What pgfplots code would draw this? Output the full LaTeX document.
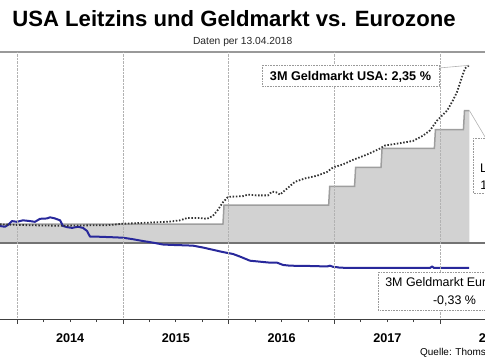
\documentclass[border=0pt]{standalone}
\usepackage{pgfplots}
\pgfplotsset{compat=1.18}
\usepackage{fontspec}
\setmainfont{Liberation Sans}
\definecolor{eurblue}{RGB}{40,40,155}
\definecolor{fillgray}{RGB}{210,210,210}
\definecolor{stepgray}{RGB}{158,158,158}
\begin{document}
\begin{tikzpicture}[x=1bp,y=1bp]
\path[use as bounding box] (0,0) rectangle (485,360);
\clip (0,0) rectangle (485,360);
\begin{axis}[at={(0bp,308bp)}, anchor=north west, scale only axis,
  width=485bp, height=267bp,
  xmin=2013.836, xmax=2018.424, ymin=-1.005, ymax=2.526,
  axis x line*=bottom, axis y line=none,
  x axis line style={-, black!75, line width=0.9bp},
  xtick={2014,2015,2016,2017,2018},
  xticklabels={2014,2015,2016,2017,2018},
  minor x tick num=3,
  tick align=outside, major tick length=4.5bp, minor tick length=3bp,
  tick style={black!75, line width=0.9bp},
  xmajorgrids, major grid style={densely dotted, gray!60, line width=0.6bp},
  xticklabel style={font=\fontsize{12.7}{14}\selectfont\bfseries, anchor=base, xshift=52.85bp, yshift=-19.3bp, inner sep=0pt},
  no marks, axis on top,
]
\addplot[fill=fillgray, draw=none] coordinates {
(2013.836,0) (2013.836,0.25) (2015.945,0.25) (2015.955,0.5) (2016.945,0.5) (2016.955,0.75)
(2017.19,0.75) (2017.20,1.0) (2017.44,1.0) (2017.45,1.25) (2017.945,1.25) (2017.955,1.5)
(2018.22,1.5) (2018.23,1.75) (2018.277,1.75) (2018.277,0)};
\addplot[stepgray, line width=1.5bp] coordinates {
(2013.836,0.25) (2015.945,0.25) (2015.955,0.5) (2016.945,0.5) (2016.955,0.75)
(2017.19,0.75) (2017.20,1.0) (2017.44,1.0) (2017.45,1.25) (2017.945,1.25) (2017.955,1.5)
(2018.22,1.5) (2018.23,1.75) (2018.277,1.75)};
\addplot[black!55, line width=1.5bp] coordinates {(2013.836,0) (2018.424,0)};
\addplot[eurblue, line width=2bp, line join=round] coordinates {
(2013.836,0.225) (2013.883,0.215) (2013.912,0.24) (2013.95,0.29) (2013.997,0.28)
(2014.054,0.30) (2014.12,0.29) (2014.167,0.28) (2014.214,0.32) (2014.281,0.325)
(2014.309,0.34) (2014.356,0.325) (2014.404,0.30) (2014.432,0.225) (2014.47,0.21)
(2014.517,0.20) (2014.574,0.215) (2014.621,0.20) (2014.659,0.16) (2014.687,0.085)
(2014.735,0.085) (2014.829,0.08) (2014.924,0.075) (2015.0,0.07) (2015.094,0.05)
(2015.189,0.026) (2015.283,0.005) (2015.378,-0.02) (2015.473,-0.026) (2015.567,-0.03)
(2015.662,-0.035) (2015.757,-0.06) (2015.851,-0.09) (2015.946,-0.12) (2016.04,-0.145)
(2016.107,-0.18) (2016.201,-0.234) (2016.296,-0.247) (2016.391,-0.26) (2016.457,-0.26)
(2016.513,-0.29) (2016.58,-0.30) (2016.769,-0.304) (2016.93,-0.31) (2016.958,-0.30)
(2016.987,-0.315) (2017.024,-0.32) (2017.053,-0.327) (2017.431,-0.329) (2017.904,-0.33)
(2017.923,-0.31) (2017.942,-0.33) (2018.254,-0.33) (2018.273,-0.33)};
\addplot[black!80, line width=1.8bp, dash pattern=on 1.5bp off 1.7bp] coordinates {
(2013.836,0.247) (2013.93,0.242) (2014.12,0.235) (2014.40,0.228) (2014.69,0.234)
(2014.85,0.235) (2015.00,0.255) (2015.255,0.27) (2015.44,0.283) (2015.539,0.30)
(2015.605,0.33) (2015.728,0.33) (2015.794,0.32) (2015.851,0.36) (2015.898,0.44)
(2015.946,0.54) (2015.993,0.61) (2016.135,0.62) (2016.182,0.64) (2016.258,0.63)
(2016.371,0.63) (2016.409,0.68) (2016.45,0.67) (2016.485,0.64) (2016.551,0.72)
(2016.627,0.81) (2016.722,0.855) (2016.835,0.89) (2016.93,0.94) (2016.987,1.0)
(2017.081,1.04) (2017.176,1.10) (2017.308,1.17) (2017.431,1.25) (2017.478,1.29)
(2017.62,1.32) (2017.743,1.35) (2017.838,1.42) (2017.904,1.49) (2017.97,1.62)
(2018.065,1.75) (2018.122,1.89) (2018.16,2.0) (2018.207,2.2) (2018.235,2.31)
(2018.273,2.35)};
\draw[gray!80, line width=1.5bp] (rel axis cs:0,1) -- (rel axis cs:1,1);
\coordinate (usend) at (axis cs:2018.273,2.35);
\coordinate (lzend) at (axis cs:2018.277,1.75);
\end{axis}
% title
\node[anchor=base, inner sep=0pt, font=\fontsize{22.2}{26}\selectfont\bfseries] at (234,333.3) {USA Leitzins und Geldmarkt vs. Eurozone};
\node[anchor=base, inner sep=0pt, font=\fontsize{10.3}{12}\selectfont, text=black!85] at (242.7,316) {Daten per 13.04.2018};
% annotation USA 3M
\draw[gray!60, line width=0.6bp] (439,292) -- (usend);
\draw[gray!80, densely dotted, line width=0.6bp, fill=white] (262,295) rectangle (439,274);
\node[anchor=base, inner sep=0pt, font=\fontsize{12.7}{14}\selectfont\bfseries] at (350.5,280) {3M Geldmarkt USA: 2,35 \%};
% annotation Leitzins
\draw[gray!60, line width=0.6bp] (lzend) -- (486,221.5);
\draw[gray!80, densely dotted, line width=0.6bp, fill=white] (473,222) rectangle (562,167);
\node[anchor=base, inner sep=0pt, font=\fontsize{12.5}{14}\selectfont] at (517.5,188) {Leitzins USA:};
\node[anchor=base, inner sep=0pt, font=\fontsize{12.5}{14}\selectfont] at (517.5,171) {1,50 - 1,75 \%};
% annotation Euro
\draw[gray!80, densely dotted, line width=0.6bp, fill=white] (378,88) rectangle (531,50);
\node[anchor=base, inner sep=0pt, font=\fontsize{12.5}{14}\selectfont] at (454.5,73.3) {3M Geldmarkt Eurozone:};
\node[anchor=base, inner sep=0pt, font=\fontsize{12.5}{14}\selectfont] at (454.5,56) {-0,33 \%};
% source
\node[anchor=base west, inner sep=0pt, font=\fontsize{10}{12}\selectfont] at (420,5) {Quelle: Thomson Reuters};
\end{tikzpicture}
\end{document}
